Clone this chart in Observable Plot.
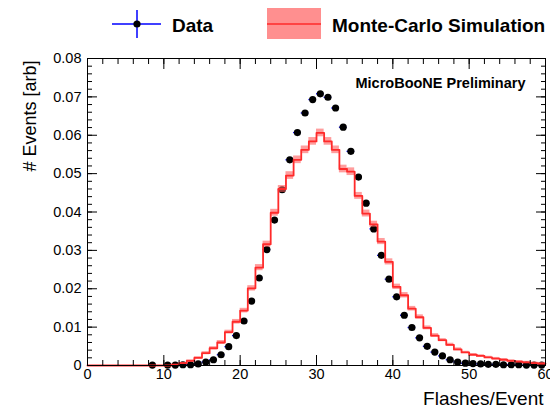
<!DOCTYPE html>
<html><head><meta charset="utf-8">
<script src="https://cdn.jsdelivr.net/npm/d3@7"></script>
<script src="https://cdn.jsdelivr.net/npm/@observablehq/plot@0.6"></script>
<style>
body{margin:0;background:#fff;font-family:"Liberation Sans",Arial,Helvetica,sans-serif;}
#wrap{position:relative;width:550px;height:415px;overflow:hidden;}
#legend{position:relative;width:550px;height:40px;}
#legend svg{position:absolute;left:0;top:0;}
</style></head><body>
<div id="wrap">
<div id="legend">
<svg width="550" height="40">
  <line x1="112" x2="161" y1="24" y2="24" stroke="#0000ff" stroke-width="1.5"/>
  <line x1="137" x2="137" y1="10" y2="38" stroke="#0000ff" stroke-width="1.5"/>
  <circle cx="137" cy="24" r="3.6" fill="#000"/>
  <text x="172" y="31.5" font-family="Liberation Sans, Arial, Helvetica, sans-serif" font-weight="bold" font-size="19">Data</text>
  <rect x="267" y="8" width="54" height="31" fill="#ff8f8f"/>
  <line x1="267" x2="321" y1="24" y2="24" stroke="#ff2a2a" stroke-width="1.5"/>
  <text x="332" y="31.5" font-family="Liberation Sans, Arial, Helvetica, sans-serif" font-weight="bold" font-size="19">Monte-Carlo Simulation</text>
</svg>
</div>
<div id="chart"></div>
</div>
<script>
// Data points (bin centres, bin width 1)
const dataX = [8.5,10.5,11.5,12.5,13.5,14.5,15.5,16.5,17.5,18.5,19.5,20.5,21.5,22.5,23.5,24.5,25.5,26.5,27.5,28.5,29.5,30.5,31.5,32.5,33.5,34.5,35.5,36.5,37.5,38.5,39.5,40.5,41.5,42.5,43.5,44.5,45.5,46.5,47.5,48.5,49.5,50.5,51.5,52.5,53.5,54.5,55.5,56.5,57.5,58.5,59.5];
const dataY = [0.0001,0.0001,0.0001,0.0002,0.0002,0.0004,0.0009,0.0015,0.0028,0.0049,0.0078,0.0116,0.0168,0.0228,0.0302,0.0379,0.0458,0.0536,0.0607,0.0658,0.0693,0.0708,0.0699,0.0671,0.0621,0.0558,0.0491,0.0423,0.0356,0.0287,0.0225,0.0179,0.0131,0.0099,0.0072,0.0050,0.0035,0.0025,0.0015,0.0009,0.0006,0.0005,0.0004,0.0003,0.0003,0.0002,0.0002,0.0002,0.0001,0.0001,0.0001];

// Monte-Carlo histogram: bins [k, k+1), k = 0..59
const mcLow = d3.range(0, 60);
const mcVal = [0,0,0,0,0,0,0,0,0,0,0,
  0.0002,0.0006,0.0012,0.0020,0.0032,0.0045,0.0060,0.0087,0.0114,0.0143,
  0.0201,0.0255,0.0316,0.0398,0.0460,0.0495,0.0536,0.0562,0.0584,0.0606,
  0.0584,0.0562,0.0512,0.0505,0.0442,0.0396,0.0368,0.0323,0.0270,0.0205,
  0.0183,0.0148,0.0126,0.0098,0.0078,0.0066,0.0054,0.0042,0.0034,0.0028,
  0.0025,0.0021,0.0018,0.0015,0.0012,0.0010,0.0008,0.0006,0.0005];
const mcErr = [0,0,0,0,0,0,0,0,0,0,0,
  0.0001,0.0002,0.0003,0.0003,0.0004,0.0004,0.0005,0.0005,0.0006,0.0006,
  0.0007,0.0008,0.0008,0.0009,0.0009,0.0010,0.0010,0.0010,0.0010,0.0010,
  0.0010,0.0010,0.0010,0.0010,0.0009,0.0009,0.0008,0.0008,0.0008,0.0007,
  0.0007,0.0006,0.0006,0.0005,0.0005,0.0004,0.0004,0.0004,0.0003,0.0003,
  0.0003,0.0003,0.0003,0.0003,0.0003,0.0003,0.0003,0.0003,0.0003];

const xMajor = [0,10,20,30,40,50,60];
const xMinor = [0,2,4,6,8,10,12,14,16,18,20,22,24,26,28,30,32,34,36,38,40,42,44,46,48,50,52,54,56,58,60];
const yMajor = [0,0.01,0.02,0.03,0.04,0.05,0.06,0.07,0.08];
const yMinor = d3.range(0, 41).map(i => +(i * 0.002).toFixed(3));

const pts = dataX.map((x, i) => ({x, v: dataY[i]}));
const bins = mcLow.map((lo, i) => ({lo, hi: lo + 1, v: mcVal[i], e: mcErr[i]}));
const stepPts = bins.flatMap(b => [{x: b.lo, y: b.v}, {x: b.hi, y: b.v}]);

const font = "Liberation Sans, Arial, Helvetica, sans-serif";
const blank = () => "";

const chart = Plot.plot({
  width: 550, height: 375,
  marginLeft: 87, marginRight: 5, marginTop: 18, marginBottom: 50,
  style: {fontFamily: font, fontSize: "14px", background: "white", color: "black"},
  x: {domain: [0, 60]},
  y: {domain: [0, 0.08]},
  marks: [
    // data
    Plot.ruleY(pts, {y: "v", x1: d => d.x - 0.5, x2: d => d.x + 0.5, stroke: "#0000ff", strokeWidth: 1.3}),
    Plot.dot(pts, {x: "x", y: "v", r: 3.6, fill: "black", stroke: null}),
    // MC band and line
    Plot.rect(bins.filter(b => b.v > 0), {x1: "lo", x2: "hi", y1: d => d.v - d.e, y2: d => d.v + d.e, fill: "#ff5c5c", fillOpacity: 0.6}),
    Plot.line(stepPts, {x: "x", y: "y", stroke: "#ff2a2a", strokeWidth: 1.8}),
    // axes
    Plot.axisX({ticks: xMajor, tickSize: 0, tickPadding: 3, tickFormat: d => String(d), label: null, fontSize: 14.5}),
    Plot.axisX({ticks: xMajor, tickSize: -10, tickFormat: blank, label: null}),
    Plot.axisX({ticks: xMinor, tickSize: -5, tickFormat: blank, label: null}),
    Plot.axisX({anchor: "top", ticks: xMajor, tickSize: -10, tickFormat: blank, label: null}),
    Plot.axisX({anchor: "top", ticks: xMinor, tickSize: -5, tickFormat: blank, label: null}),
    Plot.axisY({ticks: yMajor, tickSize: 0, tickPadding: 6, tickFormat: d => d === 0 ? "0" : d.toFixed(2), label: null, fontSize: 14.5}),
    Plot.axisY({ticks: yMajor, tickSize: -10, tickFormat: blank, label: null}),
    Plot.axisY({ticks: yMinor, tickSize: -5, tickFormat: blank, label: null}),
    Plot.axisY({anchor: "right", ticks: yMajor, tickSize: -10, tickFormat: blank, label: null}),
    Plot.axisY({anchor: "right", ticks: yMinor, tickSize: -5, tickFormat: blank, label: null}),
    Plot.frame({stroke: "black", strokeWidth: 1}),
    // texts
    Plot.text(["MicroBooNE Preliminary"], {frameAnchor: "top-right", dx: -20, dy: 19, textAnchor: "end", fontWeight: "bold", fontSize: 14.5}),
    Plot.text(["# Events [arb]"], {frameAnchor: "top-left", dx: -64, dy: 2, rotate: -90, textAnchor: "end", fontSize: 18}),
    Plot.text(["Flashes/Event"], {frameAnchor: "bottom-right", dx: -2, dy: 39, textAnchor: "end", fontSize: 19})
  ]
});
document.getElementById("chart").appendChild(chart);
</script>
</body></html>
